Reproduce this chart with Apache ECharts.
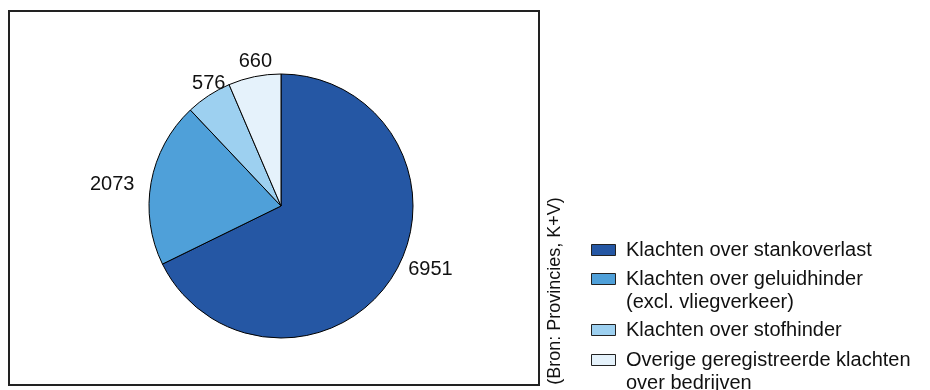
<!DOCTYPE html>
<html>
<head>
<meta charset="utf-8">
<script src="https://cdn.jsdelivr.net/npm/echarts@6/dist/echarts.min.js"></script>
<style>html,body{margin:0;padding:0;background:#fff}#c{width:930px;height:390px}</style>
</head>
<body>
<div id="c"></div>
<script>
const categories = [
  'Klachten over stankoverlast',
  'Klachten over geluidhinder\n(excl. vliegverkeer)',
  'Klachten over stofhinder',
  'Overige geregistreerde klachten\nover bedrijven'
];
const values = [6951, 2073, 576, 660];
const colors = ['#2557a4', '#4fa0d9', '#9dd0f0', '#e5f2fb'];
const sourceText = '(Bron: Provincies, K+V)';

const FONT = '"Liberation Sans", Arial, sans-serif';
const CX = 281, CY = 206, R = 132, GAP = 9;
// small per-label nudges (layout only, in px)
const labelNudge = [[10, -23], [-7, 8], [14, 9], [5, 5]];
const total = values.reduce((a, b) => a + b, 0);

const chart = echarts.init(document.getElementById('c'), null, {renderer: 'canvas'});

const legendGraphics = [];
const iconCenters = [250, 279, 330, 360];
categories.forEach((name, i) => {
  legendGraphics.push({
    type: 'rect',
    shape: {x: 591.5, y: iconCenters[i] - 5.5, width: 24, height: 11},
    style: {fill: colors[i], stroke: '#222', lineWidth: 1}
  });
  legendGraphics.push({
    type: 'text',
    x: 626, y: iconCenters[i] - 11.5,
    style: {text: name, font: '20px ' + FONT, fill: '#111', lineHeight: 23, verticalAlign: 'top', align: 'left'}
  });
});

chart.setOption({
  animation: false,
  backgroundColor: '#fff',
  graphic: [
    {type: 'rect', shape: {x: 9, y: 11, width: 530, height: 374}, style: {fill: 'none', stroke: '#222', lineWidth: 2}},
    {type: 'text', x: 555, y: 291, rotation: Math.PI / 2,
     style: {text: sourceText, font: '18px ' + FONT, fill: '#111', align: 'center', verticalAlign: 'middle'}}
  ].concat(legendGraphics),
  series: [{
    type: 'pie',
    center: [CX, CY],
    radius: [0, R],
    startAngle: 90,
    clockwise: true,
    silent: true,
    data: values.map((v, i) => ({value: v, name: categories[i], itemStyle: {color: colors[i]}})),
    itemStyle: {borderColor: '#000', borderWidth: 1},
    label: {show: true, position: 'outside', formatter: '{c}', fontSize: 20, fontFamily: FONT, color: '#111'},
    labelLine: {show: false, length: 5, length2: 0},
    labelLayout: function (p) {
      const i = p.dataIndex;
      let before = 0;
      for (let k = 0; k < i; k++) before += values[k];
      const midFrac = (before + values[i] / 2) / total;
      const ang = Math.PI / 2 - midFrac * 2 * Math.PI;
      const dx = Math.cos(ang), dy = -Math.sin(ang);
      const w = p.labelRect.width, h = 17;
      const ext = Math.abs(dx) * w / 2 + Math.abs(dy) * h / 2;
      const d = R + GAP + ext;
      return {x: CX + dx * d + labelNudge[i][0], y: CY + dy * d + labelNudge[i][1], align: 'center', verticalAlign: 'middle'};
    }
  }]
});
</script>
</body>
</html>
